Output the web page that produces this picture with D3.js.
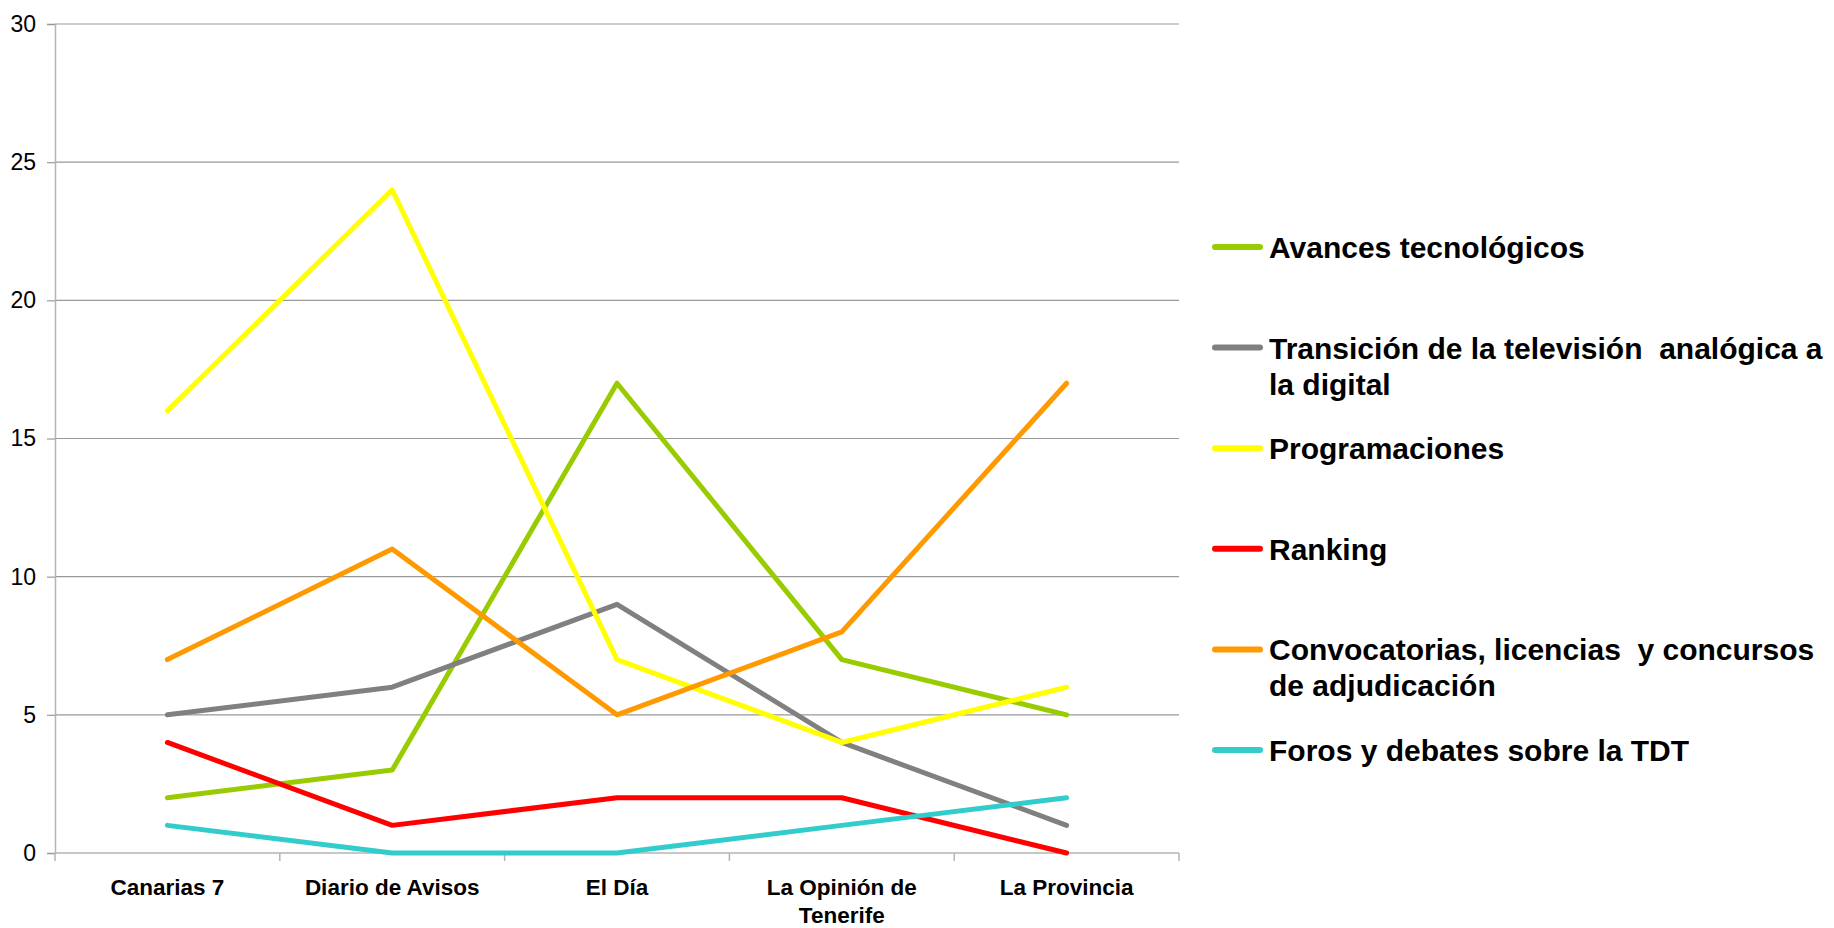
<!DOCTYPE html>
<html>
<head>
<meta charset="utf-8">
<script src="https://cdn.jsdelivr.net/npm/d3@7"></script>
<style>
  body { margin: 0; background: #fff; }
  text { font-family: "Liberation Sans", Arial, sans-serif; }
</style>
</head>
<body>
<div id="chart"></div>
<script>
// categories on the x axis (newspapers)
const categories = ["Canarias 7", "Diario de Avisos", "El Día", "La Opinión de\nTenerife", "La Provincia"]

// one array per series
const avances = [2, 3, 17, 7, 5]
const transicion = [5, 6, 9, 4, 1]
const programaciones = [16, 24, 7, 4, 6]
const ranking = [4, 1, 2, 2, 0]
const convocatorias = [7, 11, 5, 8, 17]
const foros = [1, 0, 0, 1, 2]

const seriesNames = [
    "Avances tecnológicos",
    "Transición de la televisión  analógica a\nla digital",
    "Programaciones",
    "Ranking",
    "Convocatorias, licencias  y concursos\nde adjudicación",
    "Foros y debates sobre la TDT"
]
const seriesValues = [avances, transicion, programaciones, ranking, convocatorias, foros]
const seriesColors = ["#99cc00", "#808080", "#ffff00", "#ff0000", "#ff9900", "#33cccc"]

const yTicks = [0, 5, 10, 15, 20, 25, 30]

const W = 1834, H = 928
const plot = { left: 55, right: 1179, top: 24, bottom: 853 }

const svg = d3.select("#chart")
    .append("svg")
    .attr("width", W)
    .attr("height", H)

const x = d3.scaleBand()
    .domain(categories)
    .range([plot.left, plot.right])

const y = d3.scaleLinear()
    .domain([0, 30])
    .range([plot.bottom, plot.top])

// horizontal gridlines
svg.append("g")
    .selectAll("line")
    .data(yTicks.filter(d => d > 0))
    .join("line")
    .attr("x1", plot.left)
    .attr("x2", plot.right)
    .attr("y1", d => y(d))
    .attr("y2", d => y(d))
    .style("stroke", "#999")
    .style("stroke-width", 1.2)

// y axis
const yAxis = svg.append("g")
    .attr("transform", `translate(${plot.left},0)`)
    .call(d3.axisLeft(y).tickValues(yTicks).tickSize(8).tickPadding(11))
yAxis.select(".domain").style("stroke", "#b4b4b4").style("stroke-width", 1.5)
yAxis.selectAll(".tick line").style("stroke", "#999").style("stroke-width", 1.2)
yAxis.selectAll(".tick text")
    .style("font-size", "23px")
    .style("fill", "#000")
    .style("font-family", "Liberation Sans, Arial, sans-serif")

// x axis: line plus ticks at band edges
const xg = svg.append("g")
xg.append("line")
    .attr("x1", plot.left).attr("x2", plot.right)
    .attr("y1", plot.bottom).attr("y2", plot.bottom)
    .style("stroke", "#b4b4b4").style("stroke-width", 1.5)
const edges = categories.map(c => x(c)).concat([plot.right])
xg.selectAll(".edge")
    .data(edges)
    .join("line")
    .attr("class", "edge")
    .attr("x1", d => d).attr("x2", d => d)
    .attr("y1", plot.bottom).attr("y2", plot.bottom + 8)
    .style("stroke", "#b4b4b4").style("stroke-width", 1.5)

xg.selectAll(".xlab")
    .data(categories)
    .join("text")
    .attr("class", "xlab")
    .attr("x", d => x(d) + x.bandwidth() / 2)
    .attr("y", 895)
    .attr("text-anchor", "middle")
    .style("font-size", "22.5px")
    .style("font-weight", "bold")
    .each(function (d) {
        const t = d3.select(this)
        d.split("\n").forEach((ln, i) => {
            t.append("tspan")
                .attr("x", x(d) + x.bandwidth() / 2)
                .attr("dy", i === 0 ? 0 : 28)
                .text(ln)
        })
    })

// the series lines
const line = d3.line()
    .x((d, i) => x(categories[i]) + x.bandwidth() / 2)
    .y(d => y(d))

svg.append("g")
    .selectAll("path")
    .data(seriesValues)
    .join("path")
    .attr("d", d => line(d))
    .style("fill", "none")
    .style("stroke", (d, i) => seriesColors[i])
    .style("stroke-width", 5)
    .style("stroke-linejoin", "round")
    .style("stroke-linecap", "round")

// legend
const legendY = d3.scaleLinear().domain([0, 5]).range([247, 750])
const leg = svg.append("g")
    .selectAll("g")
    .data(seriesNames)
    .join("g")
    .attr("transform", (d, i) => `translate(1213,${legendY(i)})`)

leg.append("line")
    .attr("x1", 2).attr("x2", 47)
    .attr("y1", 0).attr("y2", 0)
    .style("stroke", (d, i) => seriesColors[i])
    .style("stroke-width", 6)
    .style("stroke-linecap", "round")

leg.append("text")
    .attr("x", 56)
    .attr("y", 11)
    .style("font-size", "30px")
    .style("font-weight", "bold")
    .style("white-space", "pre")
    .each(function (d) {
        const t = d3.select(this)
        d.split("\n").forEach((ln, i) => {
            t.append("tspan")
                .attr("x", 56)
                .attr("dy", i === 0 ? 0 : 36)
                .text(ln)
        })
    })
</script>
</body>
</html>
